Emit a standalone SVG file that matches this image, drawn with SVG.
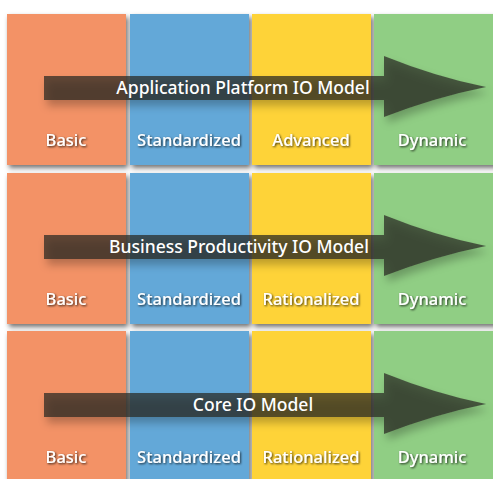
<svg xmlns="http://www.w3.org/2000/svg" width="493" height="479" viewBox="0 0 493 479">
<defs>
<filter id="sh" x="-20%" y="-20%" width="140%" height="140%">
<feDropShadow dx="2" dy="3" stdDeviation="2.5" flood-color="#000" flood-opacity="0.55"/>
</filter>
<filter id="bs" x="-10%" y="-40%" width="120%" height="200%">
<feDropShadow dx="3" dy="6" stdDeviation="4" flood-color="#000" flood-opacity="0.35"/>
</filter>
<filter id="ts" x="-10%" y="-30%" width="120%" height="160%">
<feDropShadow dx="1" dy="1" stdDeviation="0.8" flood-color="#000" flood-opacity="0.8"/>
</filter>
<g id="arrow">
<rect x="44" y="76" width="340" height="24"/>
<path d="M384 56 Q436 77 486 87 Q436 97 384 117 Z"/>
</g>
</defs>
<style>
.o{fill:#F39266}.b{fill:#64A8D8}.y{fill:#FED339}.g{fill:#90CE84}
.lab{font-family:"Noto Sans","Open Sans","DejaVu Sans",sans-serif;font-size:16.5px;font-weight:500;fill:#fff;text-anchor:middle;filter:url(#ts)}
.ttl{font-family:"Noto Sans","Open Sans","DejaVu Sans",sans-serif;font-size:17.5px;font-weight:500;fill:#fff;text-anchor:middle}
.arr{fill:#2b2b26;fill-opacity:0.72;filter:url(#bs)}
</style>
<rect width="493" height="479" fill="#fff"/>
<g id="row1">
<g filter="url(#sh)">
<rect class="o" x="7" y="14" width="119" height="151"/>
<rect class="b" x="130" y="14" width="119" height="151"/>
<rect class="y" x="252" y="14" width="119" height="151"/>
<rect class="g" x="374" y="14" width="125" height="151"/>
</g>
<use href="#arrow" class="arr"/>
<text class="ttl" x="243" y="94">Application Platform IO Model</text>
<text class="lab" x="66" y="146">Basic</text>
<text class="lab" x="189" y="146">Standardized</text>
<text class="lab" x="311" y="146">Advanced</text>
<text class="lab" x="432" y="146">Dynamic</text>
</g>
<g id="row2" transform="translate(0,159)">
<g filter="url(#sh)">
<rect class="o" x="7" y="14" width="119" height="151"/>
<rect class="b" x="130" y="14" width="119" height="151"/>
<rect class="y" x="252" y="14" width="119" height="151"/>
<rect class="g" x="374" y="14" width="125" height="151"/>
</g>
<use href="#arrow" class="arr"/>
<text class="ttl" x="239" y="94">Business Productivity IO Model</text>
<text class="lab" x="66" y="146">Basic</text>
<text class="lab" x="189" y="146">Standardized</text>
<text class="lab" x="311" y="146">Rationalized</text>
<text class="lab" x="432" y="146">Dynamic</text>
</g>
<g id="row3" transform="translate(0,317)">
<g filter="url(#sh)">
<rect class="o" x="7" y="14" width="119" height="170"/>
<rect class="b" x="130" y="14" width="119" height="170"/>
<rect class="y" x="252" y="14" width="119" height="170"/>
<rect class="g" x="374" y="14" width="125" height="170"/>
</g>
<use href="#arrow" class="arr"/>
<text class="ttl" x="253" y="94">Core IO Model</text>
<text class="lab" x="66" y="146">Basic</text>
<text class="lab" x="189" y="146">Standardized</text>
<text class="lab" x="311" y="146">Rationalized</text>
<text class="lab" x="432" y="146">Dynamic</text>
</g>
</svg>
